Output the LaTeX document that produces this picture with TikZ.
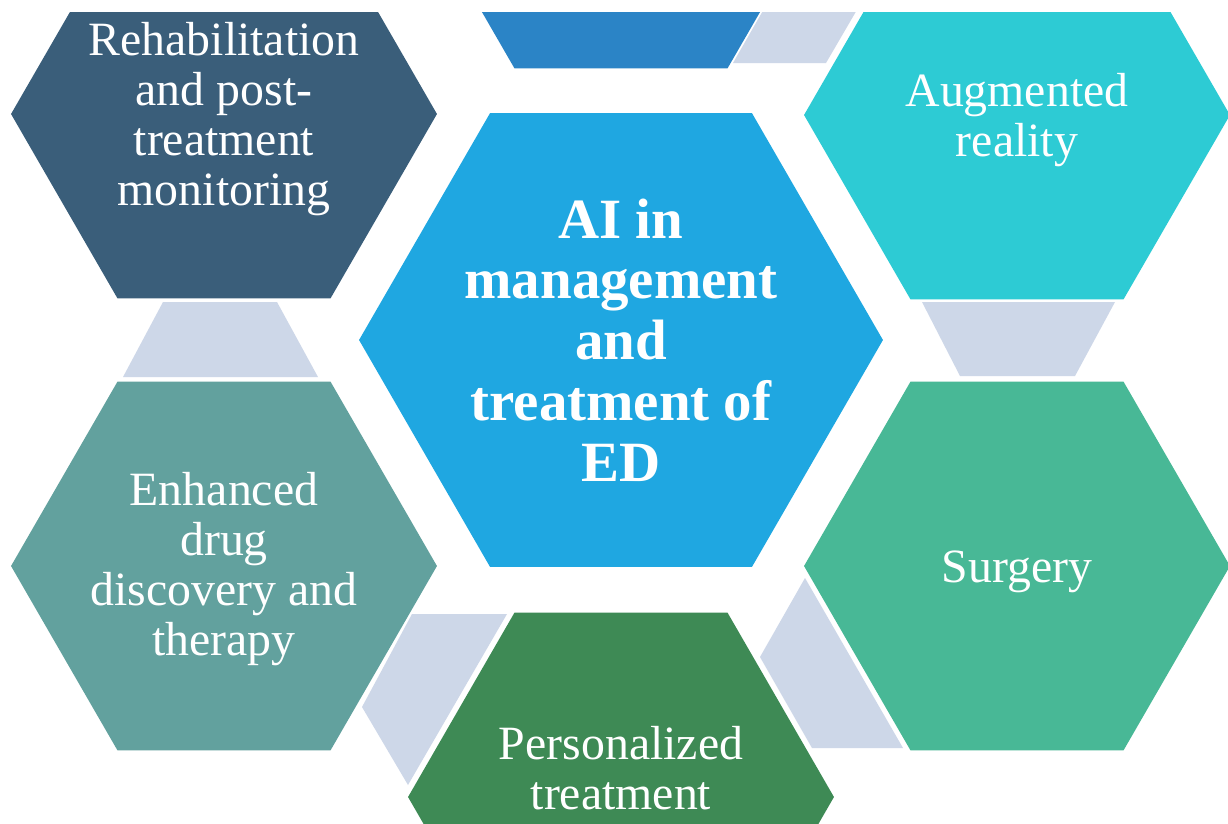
\documentclass[tikz,border=0pt]{standalone}
\usepackage{fontspec}
\setmainfont{Liberation Serif}
\usetikzlibrary{shapes.geometric}
\definecolor{tileSlate}{HTML}{3A5E7A}
\definecolor{tileDeep}{HTML}{2B84C6}
\definecolor{tileCore}{HTML}{1FA7E1}
\definecolor{tileCyan}{HTML}{2DCBD4}
\definecolor{tileMint}{HTML}{48B896}
\definecolor{tileGreen}{HTML}{3E8A55}
\definecolor{tileTeal}{HTML}{62A19E}
\definecolor{linkGrey}{HTML}{CDD7E8}
\tikzset{
    hexTile/.style={regular polygon, regular polygon sides=6, draw=none, inner sep=0pt,
        minimum size=8.52cm},
    hexCore/.style={hexTile, minimum size=10.48cm},
    tileText/.style={text=white, align=center, font=\fontsize{27.2}{28.4}\selectfont},
    coreText/.style={tileText, font=\bfseries\fontsize{32.4}{34.6}\selectfont}
}
\newcommand{\LinkPiece}[4]{
    % #1..#4: corners of the grey joint
    \fill[linkGrey] #1 -- #2 -- #3 -- #4 -- cycle;
}

\begin{document}
\begin{tikzpicture}[x=0.02cm, y=-0.02cm]
        \useasboundingbox (0,0) rectangle (1228,823);
        \fill[white] (0,0) rectangle (1228,823);

        \begin{scope}
        \clip (0,12) rectangle (1228,823);

        % Grey joints
        \LinkPiece{(163,302)}{(277,302)}{(318,377)}{(123,377)}
        \LinkPiece{(922,302)}{(1115,302)}{(1075,376)}{(960,376)}
        \LinkPiece{(733,63)}{(826,63)}{(886,-40)}{(792,-40)}
        \LinkPiece{(412,614)}{(507,614)}{(408,785)}{(362,707)}
        \LinkPiece{(805,578)}{(903,748)}{(812,748)}{(760,657)}

        % Outer tiles
        \node[hexTile, fill=tileDeep] (upper) at (621,-116) {};
        \node[hexTile, fill=tileSlate] (rehab) at (224,114) {};
        \node[hexTile, fill=tileCyan] (augm) at (1017,115) {};
        \node[hexTile, fill=tileTeal] (drug) at (224,566) {};
        \node[hexTile, fill=tileMint] (surg) at (1017,566) {};
        \node[hexTile, fill=tileGreen] (pers) at (621,797) {};

        % Centre tile
        \node[hexCore, fill=tileCore] (core) at (621,340) {};

        % Labels
        \node[tileText] (rehabtext) at (224,119) {Rehabilitation\\and post-\\treatment\\monitoring};
        \node[tileText] (augmtext) at (1017,120) {Augmented\\reality};
        \node[tileText] (drugtext) at (224,569) {Enhanced\\drug\\discovery and\\therapy};
        \node[tileText] (surgtext) at (1017,572) {Surgery};
        \node[tileText] (perstext) at (621,768) {Personalized\\treatment};
        \node[coreText] (coretext) at (621,340) {AI in\\management\\and\\treatment of\\ED};
        \end{scope}
    \end{tikzpicture}
\end{document}
